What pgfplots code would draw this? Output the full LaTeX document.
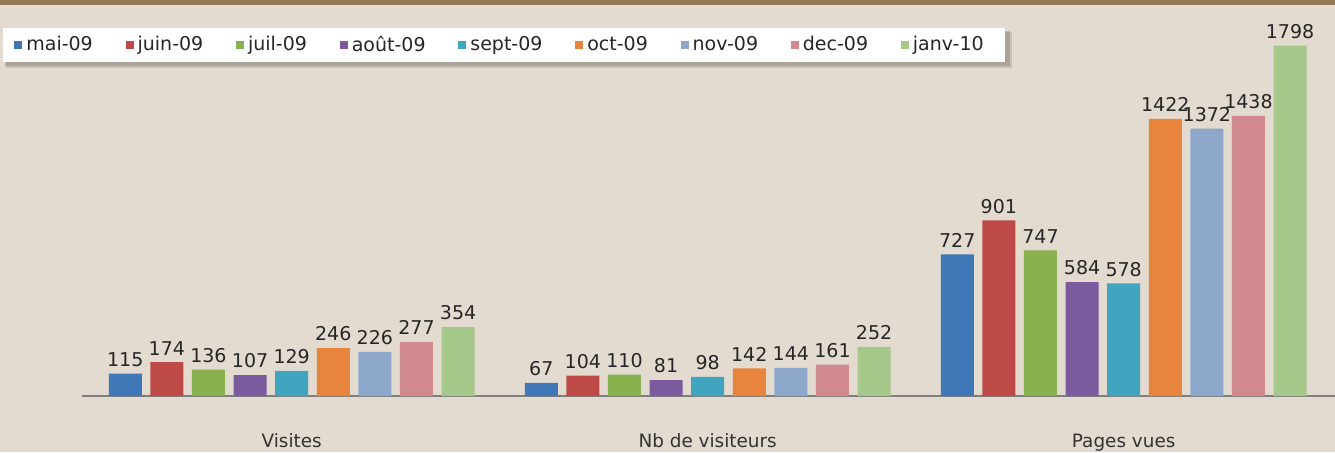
\documentclass[border=0pt]{standalone}
\usepackage{fontspec}
\setmainfont{DejaVu Sans}
\usepackage{pgfplots}
\pgfplotsset{compat=1.18}
\definecolor{bg}{HTML}{E3DBCF}
\definecolor{topbar}{HTML}{937B57}
\definecolor{axisgray}{HTML}{7E7E7E}
\definecolor{c1}{HTML}{4077B6}
\definecolor{c2}{HTML}{BE4A48}
\definecolor{c3}{HTML}{88B04F}
\definecolor{c4}{HTML}{7A5C9E}
\definecolor{c5}{HTML}{42A5C0}
\definecolor{c6}{HTML}{E8853D}
\definecolor{c7}{HTML}{8CA7CA}
\definecolor{c8}{HTML}{D08A8F}
\definecolor{c9}{HTML}{A6C88A}
\pgfplotsset{sqlegend/.style={legend image code/.code={\fill[##1] (0pt,-2pt) rectangle (4pt,2pt);}}}
\begin{document}
\begin{tikzpicture}
\fill[bg] (0,0) rectangle (667.5pt,226pt);
\fill[topbar] (0,223.5pt) rectangle (667.5pt,226pt);
% legend box with shadow
\fill[black, opacity=0.12] (3pt,192pt) rectangle (506pt,210pt);
\fill[black, opacity=0.15] (2.5pt,193pt) rectangle (505pt,210.5pt);
\fill[white] (1.5pt,195pt) rectangle (502.5pt,212pt);
\begin{axis}[
  at={(41pt,28pt)}, anchor=south west,
  scale only axis, width=626.5pt, height=193pt,
  xmin=-0.504, xmax=2.508, ymin=0, ymax=1981,
  ybar=4.3pt, bar width=16.5pt,
  hide y axis,
  axis x line*=bottom,
  x axis line style={draw=axisgray, line width=0.8pt, -},
  xtick={0,1,2},
  xticklabels={Visites, Nb de visiteurs, Pages vues},
  xtick style={draw=none},
  xticklabel style={font=\fontsize{9.2}{10}\selectfont, yshift=-11pt, text=black!80},
  nodes near coords,
  every node near coord/.append style={font=\fontsize{9.5}{11}\selectfont, text=black!85},
  /pgf/number format/assume math mode=true,
  /pgf/number format/1000 sep={},
  clip=false,
  legend columns=9,
  legend style={at={(-0.0543,0.9093)}, anchor=west, draw=none, fill=none,
    inner xsep=0pt, inner ysep=0pt, font=\fontsize{9.5}{11}\selectfont, text=black!85,
    /tikz/every even column/.append style={column sep=14.4pt}},
]
\addplot[fill=c1, draw=none, sqlegend] coordinates {(0,115) (1,67) (2,727)};
\addplot[fill=c2, draw=none, sqlegend] coordinates {(0,174) (1,104) (2,901)};
\addplot[fill=c3, draw=none, sqlegend] coordinates {(0,136) (1,110) (2,747)};
\addplot[fill=c4, draw=none, sqlegend] coordinates {(0,107) (1,81) (2,584)};
\addplot[fill=c5, draw=none, sqlegend] coordinates {(0,129) (1,98) (2,578)};
\addplot[fill=c6, draw=none, sqlegend] coordinates {(0,246) (1,142) (2,1422)};
\addplot[fill=c7, draw=none, sqlegend] coordinates {(0,226) (1,144) (2,1372)};
\addplot[fill=c8, draw=none, sqlegend] coordinates {(0,277) (1,161) (2,1438)};
\addplot[fill=c9, draw=none, sqlegend] coordinates {(0,354) (1,252) (2,1798)};
\legend{mai-09, juin-09, juil-09, août-09, sept-09, oct-09, nov-09, dec-09, janv-10}
\end{axis}
\pgfresetboundingbox
\useasboundingbox (0,0) rectangle (667.5pt,226pt);
\end{tikzpicture}
\end{document}
